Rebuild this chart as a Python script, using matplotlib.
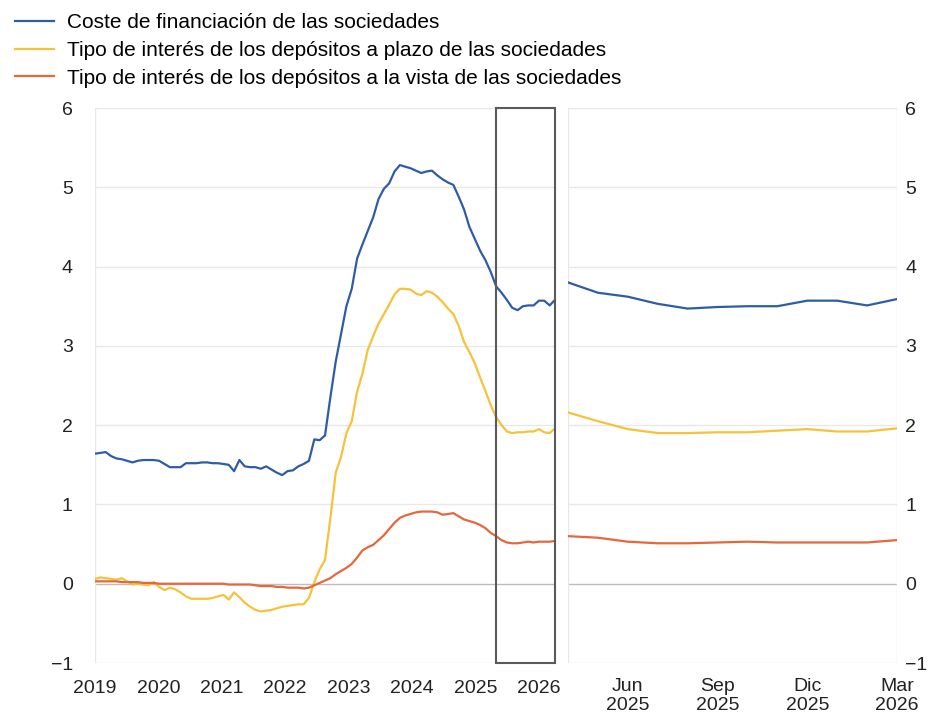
import numpy as np
import matplotlib.pyplot as plt
from matplotlib.patches import Rectangle

plt.rcParams['font.family'] = ['Liberation Sans', 'DejaVu Sans']
plt.rcParams['axes.unicode_minus'] = True

# --- datos (mensuales, ene 2019 - mar 2026) ---
coste = [1.64, 1.65, 1.66, 1.61, 1.58, 1.57, 1.55, 1.53, 1.55, 1.56, 1.56, 1.56,
         1.55, 1.51, 1.47, 1.47, 1.47, 1.52, 1.52, 1.52, 1.53, 1.53, 1.52, 1.52,
         1.51, 1.50, 1.42, 1.56, 1.48, 1.47, 1.47, 1.45, 1.48, 1.44, 1.40, 1.37,
         1.42, 1.43, 1.48, 1.51, 1.55, 1.82, 1.81, 1.87, 2.35, 2.80, 3.15, 3.50,
         3.72, 4.10, 4.28, 4.45, 4.62, 4.85, 4.98, 5.05, 5.20, 5.28, 5.26, 5.24,
         5.21, 5.18, 5.20, 5.21, 5.15, 5.10, 5.06, 5.03, 4.88, 4.72, 4.50, 4.35,
         4.20, 4.08, 3.93, 3.75, 3.67, 3.58, 3.48, 3.45, 3.50, 3.51, 3.51, 3.57,
         3.57, 3.51, 3.58]
plazo = [0.06, 0.08, 0.07, 0.06, 0.05, 0.07, 0.03, -0.01, 0.00, -0.01, -0.02, 0.02,
         -0.04, -0.08, -0.05, -0.07, -0.11, -0.16, -0.19, -0.19, -0.19, -0.19, -0.18, -0.16,
         -0.14, -0.20, -0.11, -0.17, -0.24, -0.29, -0.33, -0.35, -0.34, -0.33, -0.31, -0.29,
         -0.28, -0.27, -0.26, -0.26, -0.18, 0.02, 0.18, 0.30, 0.82, 1.40, 1.60, 1.90,
         2.05, 2.42, 2.65, 2.95, 3.12, 3.28, 3.40, 3.52, 3.65, 3.72, 3.72, 3.71,
         3.66, 3.64, 3.69, 3.67, 3.62, 3.55, 3.47, 3.40, 3.25, 3.05, 2.92, 2.78,
         2.60, 2.43, 2.25, 2.10, 2.00, 1.92, 1.90, 1.91, 1.91, 1.92, 1.92, 1.95,
         1.91, 1.90, 1.96]
vista = [0.03, 0.03, 0.03, 0.03, 0.03, 0.02, 0.02, 0.02, 0.02, 0.01, 0.01, 0.01,
         0.00, 0.00, 0.00, 0.00, 0.00, 0.00, 0.00, 0.00, 0.00, 0.00, 0.00, 0.00,
         0.00, -0.01, -0.01, -0.01, -0.01, -0.01, -0.02, -0.03, -0.03, -0.03, -0.04, -0.04,
         -0.05, -0.05, -0.05, -0.06, -0.05, -0.02, 0.01, 0.04, 0.07, 0.12, 0.16, 0.20,
         0.25, 0.33, 0.42, 0.46, 0.49, 0.55, 0.61, 0.69, 0.77, 0.83, 0.86, 0.88,
         0.90, 0.91, 0.91, 0.91, 0.90, 0.87, 0.88, 0.89, 0.85, 0.81, 0.79, 0.77,
         0.74, 0.70, 0.64, 0.60, 0.55, 0.52, 0.51, 0.51, 0.52, 0.53, 0.52, 0.53,
         0.53, 0.53, 0.54]
years = ['2019', '2020', '2021', '2022', '2023', '2024', '2025', '2026']

# detalle abr 2025 - mar 2026
coste_z = [3.80, 3.67, 3.62, 3.53, 3.47, 3.49, 3.50, 3.50, 3.57, 3.57, 3.51, 3.59]
plazo_z = [2.16, 2.05, 1.95, 1.90, 1.90, 1.91, 1.91, 1.93, 1.95, 1.92, 1.92, 1.96]
vista_z = [0.60, 0.58, 0.53, 0.51, 0.51, 0.52, 0.53, 0.52, 0.52, 0.52, 0.52, 0.55]
zoom_ticks = ['Jun\n2025', 'Sep\n2025', 'Dic\n2025', 'Mar\n2026']

labels = ['Coste de financiación de las sociedades',
          'Tipo de interés de los depósitos a plazo de las sociedades',
          'Tipo de interés de los depósitos a la vista de las sociedades']
colors = ['#2f5ca6', '#f5c23a', '#e5683c']

fig = plt.figure(figsize=(9.33, 7.14), dpi=100)
ax1 = fig.add_axes([95 / 933, 1 - 663 / 714, 460 / 933, 555 / 714])
ax2 = fig.add_axes([568 / 933, 1 - 663 / 714, 329 / 933, 555 / 714])


def style(ax):
    ax.set_ylim(-1, 6)
    ax.set_yticks(range(-1, 7))
    for s in ax.spines.values():
        s.set_visible(False)
    for y in range(-1, 7):
        ax.axhline(y, color='#bdbdbd' if y == 0 else '#e8e8e8', lw=1, zorder=0)
    ax.tick_params(length=0, labelsize=14, colors='#222222', pad=12)


m = np.arange(len(coste))
for vals, c, lab in zip([coste, plazo, vista], colors, labels):
    ax1.plot(m, vals, color=c, lw=1.6, label=lab, zorder=3)
style(ax1)
ax1.set_xlim(0, len(coste) - 1)
ax1.set_xticks(np.arange(len(years)) * 11.85)
ax1.set_xticklabels(years)
ax1.tick_params(axis='y', pad=16)
ax1.axvline(0, color='#e8e8e8', lw=1, zorder=0)
# recuadro del periodo ampliado
ax1.add_patch(Rectangle((75, -1), len(coste) - 1 - 75, 7, fill=False,
                        edgecolor='#5a5a5a', lw=1.5, zorder=4, clip_on=False))

k = np.arange(len(coste_z))
for vals, c in zip([coste_z, plazo_z, vista_z], colors):
    ax2.plot(k, vals, color=c, lw=1.6, zorder=3)
style(ax2)
ax2.set_xlim(0, len(coste_z) - 1)
ax2.set_xticks([2, 5, 8, 11])
ax2.set_xticklabels(zoom_ticks, linespacing=1.1)
ax2.tick_params(axis='x', pad=11)
ax2.yaxis.tick_right()
ax2.tick_params(axis='y', pad=6)
ax2.axvline(0, color='#e8e8e8', lw=1, zorder=0)
ax2.axvline(len(coste_z) - 1, color='#e8e8e8', lw=1, zorder=0)

fig.legend(loc='upper left', bbox_to_anchor=(0.0, 1.002), frameon=False,
           fontsize=15, handlelength=1.9, handletextpad=0.6, labelspacing=0.42,
           borderaxespad=0.3)

fig.savefig('out.png', dpi=100)
